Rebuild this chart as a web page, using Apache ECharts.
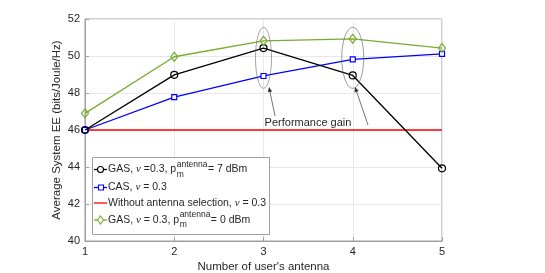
<!DOCTYPE html>
<html>
<head>
<meta charset="utf-8">
<script src="https://cdn.jsdelivr.net/npm/echarts@6/dist/echarts.min.js"></script>
<style>
html,body{margin:0;padding:0;background:#fff;}
#c{width:545px;height:273px;}
</style>
</head>
<body>
<div id="c"></div>
<script>
var antennas = [1, 2, 3, 4, 5];
var gas7 = [46.0, 48.98, 50.43, 48.95, 43.93];
var cas = [46.0, 47.78, 48.92, 49.82, 50.12];
var noSel = [46.0, 46.0, 46.0, 46.0, 46.0];
var gas0 = [46.9, 49.96, 50.82, 50.93, 50.43];
var yTicks = [40, 42, 44, 46, 48, 50, 52];
var xTicks = [1, 2, 3, 4, 5];

function pairs(ys){ return antennas.map(function(x,i){ return [x, ys[i]]; }); }

var FONT = '"Liberation Sans", Arial, sans-serif';
var IFONT = '"Liberation Serif", serif';
var TXT = '#262626';

var chart = echarts.init(document.getElementById('c'), null, {renderer:'canvas'});

var option = {
  animation: false,
  backgroundColor: '#ffffff',
  grid: {left: 85, top: 19, width: 357, height: 222, show: true, borderColor: '#a0a0a0', borderWidth: 1,
         containLabel: false, outerBoundsMode: 'none'},
  xAxis: {
    type: 'value', min: xTicks[0], max: xTicks[xTicks.length-1], interval: 1,
    name: "Number of user's antenna", nameLocation: 'middle', nameGap: 20, nameMoveOverlap: false,
    nameTextStyle: {fontFamily: FONT, fontSize: 11.5, color: TXT},
    axisLine: {show: true, lineStyle: {color: '#a0a0a0', width: 1}},
    axisTick: {show: true, inside: true, length: 4, lineStyle: {color: '#a0a0a0'}},
    axisLabel: {fontFamily: FONT, fontSize: 11, color: TXT, margin: 5},
    splitLine: {show: true, lineStyle: {color: '#e8e8e8', width: 1}}
  },
  yAxis: {
    type: 'value', min: yTicks[0], max: yTicks[yTicks.length-1], interval: 2,
    name: 'Average System EE (bits/Joule/Hz)', nameLocation: 'middle', nameGap: 22, nameMoveOverlap: false,
    nameTextStyle: {fontFamily: FONT, fontSize: 11.5, color: TXT},
    axisLine: {show: true, lineStyle: {color: '#a0a0a0', width: 1}},
    axisTick: {show: true, inside: true, length: 4, lineStyle: {color: '#a0a0a0'}},
    axisLabel: {fontFamily: FONT, fontSize: 11, color: TXT, margin: 5},
    splitLine: {show: true, lineStyle: {color: '#e8e8e8', width: 1}}
  },
  series: [
    {name: 'noSel', type: 'line', data: pairs(noSel), showSymbol: false, symbol: 'none',
     lineStyle: {color: '#ff0000', width: 1.3}, itemStyle: {color: '#ff0000'}, z: 2},
    {name: 'cas', type: 'line', data: pairs(cas), symbol: 'rect', symbolSize: 5,
     lineStyle: {color: '#0000ff', width: 1.3}, itemStyle: {color: '#ffffff', borderColor: '#0000ff', borderWidth: 1.2}, z: 3},
    {name: 'gas7', type: 'line', data: pairs(gas7), symbol: 'circle', symbolSize: 7,
     lineStyle: {color: '#000000', width: 1.3}, itemStyle: {color: 'rgba(0,0,0,0)', borderColor: '#000000', borderWidth: 1.2}, z: 4},
    {name: 'gas0', type: 'line', data: pairs(gas0), symbol: 'diamond', symbolSize: [7, 9],
     lineStyle: {color: '#77ac30', width: 1.3}, itemStyle: {color: 'rgba(0,0,0,0)', borderColor: '#77ac30', borderWidth: 1.2}, z: 5}
  ]
};
chart.setOption(option);

// Annotations and legend (graphic)
function px(x, y){ return chart.convertToPixel({gridIndex: 0}, [x, y]); }
var e3 = px(3, 49.9), e4 = px(4, 49.9);
var g = [];
function ellipse(c, rx, ry){
  return {type: 'circle', shape: {cx: 0, cy: 0, r: ry}, x: c[0], y: c[1], scaleX: rx/ry, scaleY: 1,
    style: {fill: 'none', stroke: '#606060', lineWidth: 0.9, strokeNoScale: true}, z: 20};
}
g.push(ellipse(e3, 8, 30.5));
g.push(ellipse(e4, 11, 30.5));
function arrow(x1, y1, x2, y2){
  var ang = Math.atan2(y2 - y1, x2 - x1), L = 5, W = 2.2;
  var bx = x2 - L*Math.cos(ang), by = y2 - L*Math.sin(ang);
  var nx = -Math.sin(ang), ny = Math.cos(ang);
  g.push({type: 'line', shape: {x1: x1, y1: y1, x2: bx, y2: by}, style: {stroke: '#505050', lineWidth: 0.8}, z: 20});
  g.push({type: 'polygon', shape: {points: [[x2, y2], [bx + nx*W, by + ny*W], [bx - nx*W, by - ny*W]]},
    style: {fill: '#303030'}, z: 20});
}
arrow(275, 116, 269, 87);
arrow(368, 125, 355, 87);
g.push({type: 'text', x: 308, y: 123, style: {text: 'Performance gain', font: '11px ' + FONT, fill: TXT, align: 'center', verticalAlign: 'middle'}, z: 20});

// Legend
var L0 = 92, T0 = 157, LW = 177, LH = 77;
var LF = 10.5;
g.push({type: 'rect', shape: {x: L0 + 0.5, y: T0 + 0.5, width: LW, height: LH}, style: {fill: '#ffffff', stroke: '#a0a0a0', lineWidth: 1}, z: 30});
var rows = [
  {y: 169.5, color: '#000000', sym: 'circle', parts: ['GAS, ', 'ν', ' =0.3, p', 'antenna', 'm', '= 7 dBm']},
  {y: 187.5, color: '#0000ff', sym: 'rect', text: 'CAS, ', nu: ' = 0.3'},
  {y: 203, color: '#ff0000', sym: 'none', text: 'Without antenna selection, ', nu: ' = 0.3'},
  {y: 220, color: '#77ac30', sym: 'diamond', parts: ['GAS, ', 'ν', ' = 0.3, p', 'antenna', 'm', '= 0 dBm']}
];
var textX = 108;
var rich = {n: {fontFamily: FONT, fontSize: LF, color: TXT}, i: {fontFamily: IFONT, fontStyle: 'italic', fontSize: LF + 0.5, color: TXT}};
rows.forEach(function(r){
  g.push({type: 'line', shape: {x1: 94, y1: r.y, x2: 107, y2: r.y}, style: {stroke: r.color, lineWidth: 1.3}, z: 31});
  if (r.sym === 'circle') g.push({type: 'circle', shape: {cx: 100.5, cy: r.y, r: 3}, style: {fill: '#fff', stroke: r.color, lineWidth: 1.1}, z: 32});
  if (r.sym === 'rect') g.push({type: 'rect', shape: {x: 98.5, y: r.y - 2.5, width: 5, height: 5}, style: {fill: '#fff', stroke: r.color, lineWidth: 1.1}, z: 32});
  if (r.sym === 'diamond') g.push({type: 'polygon', shape: {points: [[100.5, r.y - 4], [103.5, r.y], [100.5, r.y + 4], [97.5, r.y]]}, style: {fill: '#fff', stroke: r.color, lineWidth: 1.1}, z: 32});
  var txt = r.parts ? ('{n|' + r.parts[0] + '}{i|' + r.parts[1] + '}{n|' + r.parts[2] + '}')
                    : ('{n|' + r.text + '}{i|ν}{n|' + r.nu + '}');
  g.push({type: 'text', x: textX, y: r.y, style: {rich: rich, text: txt, font: LF + 'px ' + FONT, fill: TXT, verticalAlign: 'middle'}, z: 32});
});

var cv = document.createElement('canvas').getContext('2d');
function mw(s, f){ cv.font = f; return cv.measureText(s).width; }
rows.forEach(function(r){
  if (!r.parts) return;
  var p = r.parts;
  var w = mw(p[0], LF + 'px ' + FONT) + mw(p[1], 'italic ' + (LF + 0.5) + 'px ' + IFONT) + mw(p[2], LF + 'px ' + FONT);
  var sx = textX + w + 0.5;
  g.push({type: 'text', x: sx, y: r.y - 5, style: {text: p[3], font: '8.5px ' + FONT, fill: TXT, verticalAlign: 'middle'}, z: 32});
  g.push({type: 'text', x: sx, y: r.y + 5, style: {text: p[4], font: '8.5px ' + FONT, fill: TXT, verticalAlign: 'middle'}, z: 32});
  var sw = mw(p[3], '8.5px ' + FONT);
  g.push({type: 'text', x: sx + sw + 0.5, y: r.y, style: {text: p[5], font: LF + 'px ' + FONT, fill: TXT, verticalAlign: 'middle'}, z: 32});
});

chart.setOption({graphic: {elements: g}});
</script>
</body>
</html>
